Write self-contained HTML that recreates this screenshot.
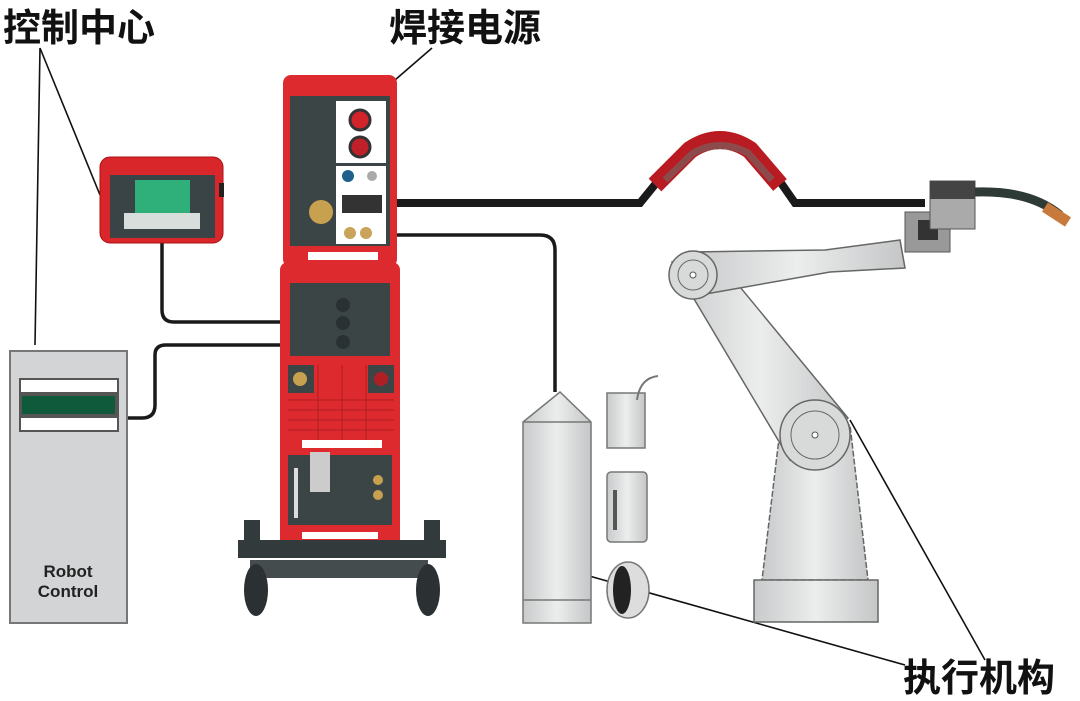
<!DOCTYPE html>
<html><head><meta charset="utf-8"><style>
html,body{margin:0;padding:0;background:#fff;}
svg{display:block}
text{font-family:"Liberation Sans","Noto Sans CJK SC",sans-serif}
</style></head><body>
<svg width="1080" height="701" viewBox="0 0 1080 701" xmlns="http://www.w3.org/2000/svg">
<defs>
<linearGradient id="g" x1="0" x2="1"><stop offset="0" stop-color="#c8cacb"/><stop offset=".5" stop-color="#eceded"/><stop offset="1" stop-color="#c4c6c7"/></linearGradient>
</defs>
<rect width="1080" height="701" fill="#fff"/>
<!-- labels -->
<text x="3" y="41" font-size="38" font-weight="bold" fill="#111">控制中心</text>
<text x="389" y="41" font-size="38" font-weight="bold" fill="#111">焊接电源</text>
<text x="903" y="691" font-size="38" font-weight="bold" fill="#111">执行机构</text>
<!-- leader lines -->
<g stroke="#111" stroke-width="1.6" fill="none">
<path d="M40 48 L35 345"/><path d="M40 48 L100 195"/>
<path d="M432 48 L395 80"/>
<path d="M850 420 L985 660"/>
<path d="M568 570 L905 665"/>
</g>
<!-- cables -->
<g stroke="#1a1a1a" stroke-width="3.5" fill="none">
<path d="M162 243 V310 Q162 322 174 322 H282"/>
<path d="M128 418 H142 Q155 418 155 405 V355 Q155 345 166 345 H282"/>
<path d="M397 235 H540 Q555 235 555 250 V392"/>
</g>
<path d="M397 203 H640 L675 160 Q720 130 765 160 L795 203 H925" stroke="#1a1a1a" stroke-width="8" fill="none"/>
<!-- hose -->
<path d="M655 185 L690 150 Q720 130 750 150 L780 185" stroke="#b81c22" stroke-width="18" fill="none" stroke-linejoin="round"/>
<path d="M665 180 L693 153 Q720 138 748 153 L772 180" stroke="#8d4a4a" stroke-width="7" fill="none"/>
<!-- pendant -->
<rect x="100" y="157" width="123" height="86" rx="10" fill="#d9262b" stroke="#a11" />
<rect x="110" y="175" width="105" height="63" fill="#3a4446"/>
<rect x="135" y="180" width="55" height="45" fill="#2fb07a"/>
<rect x="124" y="213" width="76" height="16" fill="#d8dedb"/>
<rect x="219" y="183" width="5" height="14" fill="#222"/>
<!-- robot control -->
<rect x="10" y="351" width="117" height="272" fill="#d2d4d5" stroke="#777" stroke-width="2"/>
<rect x="19" y="378" width="100" height="54" fill="#555"/>
<rect x="21" y="380" width="96" height="12" fill="#fff"/>
<rect x="21" y="418" width="96" height="12" fill="#fff"/>
<rect x="22" y="396" width="93" height="18" fill="#0f5a3a"/>
<text x="68" y="577" font-size="17" font-weight="bold" text-anchor="middle" fill="#222">Robot</text>
<text x="68" y="597" font-size="17" font-weight="bold" text-anchor="middle" fill="#222">Control</text>
<!-- power source top -->
<rect x="283" y="75" width="114" height="192" rx="8" fill="#dc2a2e"/>
<rect x="290" y="96" width="100" height="150" fill="#3c4546"/>
<rect x="336" y="101" width="50" height="62" fill="#fff"/>
<circle cx="360" cy="120" r="10" fill="#d2232a" stroke="#333" stroke-width="3"/>
<circle cx="360" cy="147" r="10" fill="#c0202a" stroke="#333" stroke-width="3"/>
<rect x="336" y="166" width="50" height="78" fill="#fff"/>
<circle cx="348" cy="176" r="6" fill="#1f5f8b"/><circle cx="372" cy="176" r="5" fill="#aaa"/>
<rect x="342" y="195" width="40" height="18" fill="#333"/>
<circle cx="350" cy="233" r="6" fill="#c9a35a"/><circle cx="366" cy="233" r="6" fill="#c9a35a"/>
<circle cx="321" cy="212" r="12" fill="#c7a14f"/>
<rect x="308" y="252" width="70" height="8" fill="#fff"/>
<!-- power source bottom -->
<rect x="280" y="262" width="120" height="292" rx="8" fill="#dc2a2e"/>
<rect x="290" y="283" width="100" height="73" fill="#3c4546"/>
<circle cx="343" cy="305" r="7" fill="#2a3132"/><circle cx="343" cy="323" r="7" fill="#2a3132"/><circle cx="343" cy="342" r="7" fill="#2a3132"/>
<rect x="288" y="365" width="26" height="28" fill="#3c4546"/><circle cx="300" cy="379" r="7" fill="#c7a14f"/>
<rect x="368" y="365" width="26" height="28" fill="#3c4546"/><circle cx="381" cy="379" r="7" fill="#b01e25"/>
<g stroke="#b01e22" stroke-width="1"><path d="M288 400H394M288 410H394M288 420H394M288 430H394M318 365V440M342 365V440M366 365V440"/></g>
<rect x="302" y="440" width="80" height="8" fill="#fff"/>
<rect x="288" y="455" width="104" height="70" fill="#3c4546"/>
<rect x="310" y="452" width="20" height="40" fill="#ccc"/>
<rect x="294" y="468" width="4" height="50" fill="#ddd"/>
<circle cx="378" cy="480" r="5" fill="#c7a14f"/><circle cx="378" cy="495" r="5" fill="#c7a14f"/>
<rect x="302" y="532" width="76" height="7" fill="#fff"/>
<!-- cart -->
<rect x="238" y="540" width="208" height="18" fill="#333a3b"/>
<rect x="244" y="520" width="16" height="22" fill="#333a3b"/><rect x="424" y="520" width="16" height="22" fill="#333a3b"/>
<rect x="250" y="560" width="178" height="18" fill="#444c4d"/>
<ellipse cx="256" cy="590" rx="12" ry="26" fill="#2b3132"/>
<ellipse cx="428" cy="590" rx="12" ry="26" fill="#2b3132"/>
<!-- cylinder -->
<path d="M523 422 L560 392 L591 422 V623 H523 Z" fill="url(#g)" stroke="#777" stroke-width="1.5"/>
<path d="M523 422 H591 M523 600 H591" stroke="#777" stroke-width="1.5"/>
<!-- wire containers -->
<rect x="607" y="393" width="38" height="55" fill="url(#g)" stroke="#777" stroke-width="1.5"/>
<path d="M637 400 Q640 378 658 376" stroke="#777" stroke-width="2" fill="none"/>
<rect x="607" y="472" width="40" height="70" rx="4" fill="url(#g)" stroke="#777" stroke-width="1.5"/>
<rect x="613" y="490" width="4" height="40" fill="#555"/>
<ellipse cx="628" cy="590" rx="21" ry="28" fill="#ddd" stroke="#777" stroke-width="1.5"/>
<ellipse cx="622" cy="590" rx="9" ry="24" fill="#222"/>
<!-- robot -->
<path d="M780 430 L850 425 L868 580 H762 Z" fill="url(#g)" stroke="#666" stroke-width="1.5" stroke-dasharray="6 2"/>
<rect x="754" y="580" width="124" height="42" fill="url(#g)" stroke="#666" stroke-width="1.5"/>
<path d="M672 262 L712 253 L848 418 L790 460 Z" fill="url(#g)" stroke="#666" stroke-width="1.5"/>
<path d="M690 252 L825 250 L900 240 L905 268 L830 272 L700 295 Z" fill="url(#g)" stroke="#666" stroke-width="1.5"/>
<circle cx="693" cy="275" r="24" fill="#d8dada" stroke="#666" stroke-width="1.5"/>
<circle cx="693" cy="275" r="15" fill="none" stroke="#666"/>
<circle cx="693" cy="275" r="3" fill="#fff" stroke="#555"/>
<circle cx="815" cy="435" r="35" fill="#d8dada" stroke="#666" stroke-width="1.5"/>
<circle cx="815" cy="435" r="24" fill="none" stroke="#666"/>
<circle cx="815" cy="435" r="3" fill="#fff" stroke="#555"/>
<!-- torch -->
<rect x="905" y="212" width="45" height="40" fill="#999" stroke="#555"/>
<rect x="918" y="220" width="20" height="20" fill="#333"/>
<rect x="930" y="181" width="45" height="48" fill="#aaa" stroke="#555"/>
<rect x="930" y="181" width="45" height="18" fill="#444"/>
<path d="M975 192 Q1030 190 1060 215" stroke="#2d3a36" stroke-width="9" fill="none"/>
<path d="M1045 207 L1068 222" stroke="#c87a3c" stroke-width="11"/>
</svg>
</body></html>
